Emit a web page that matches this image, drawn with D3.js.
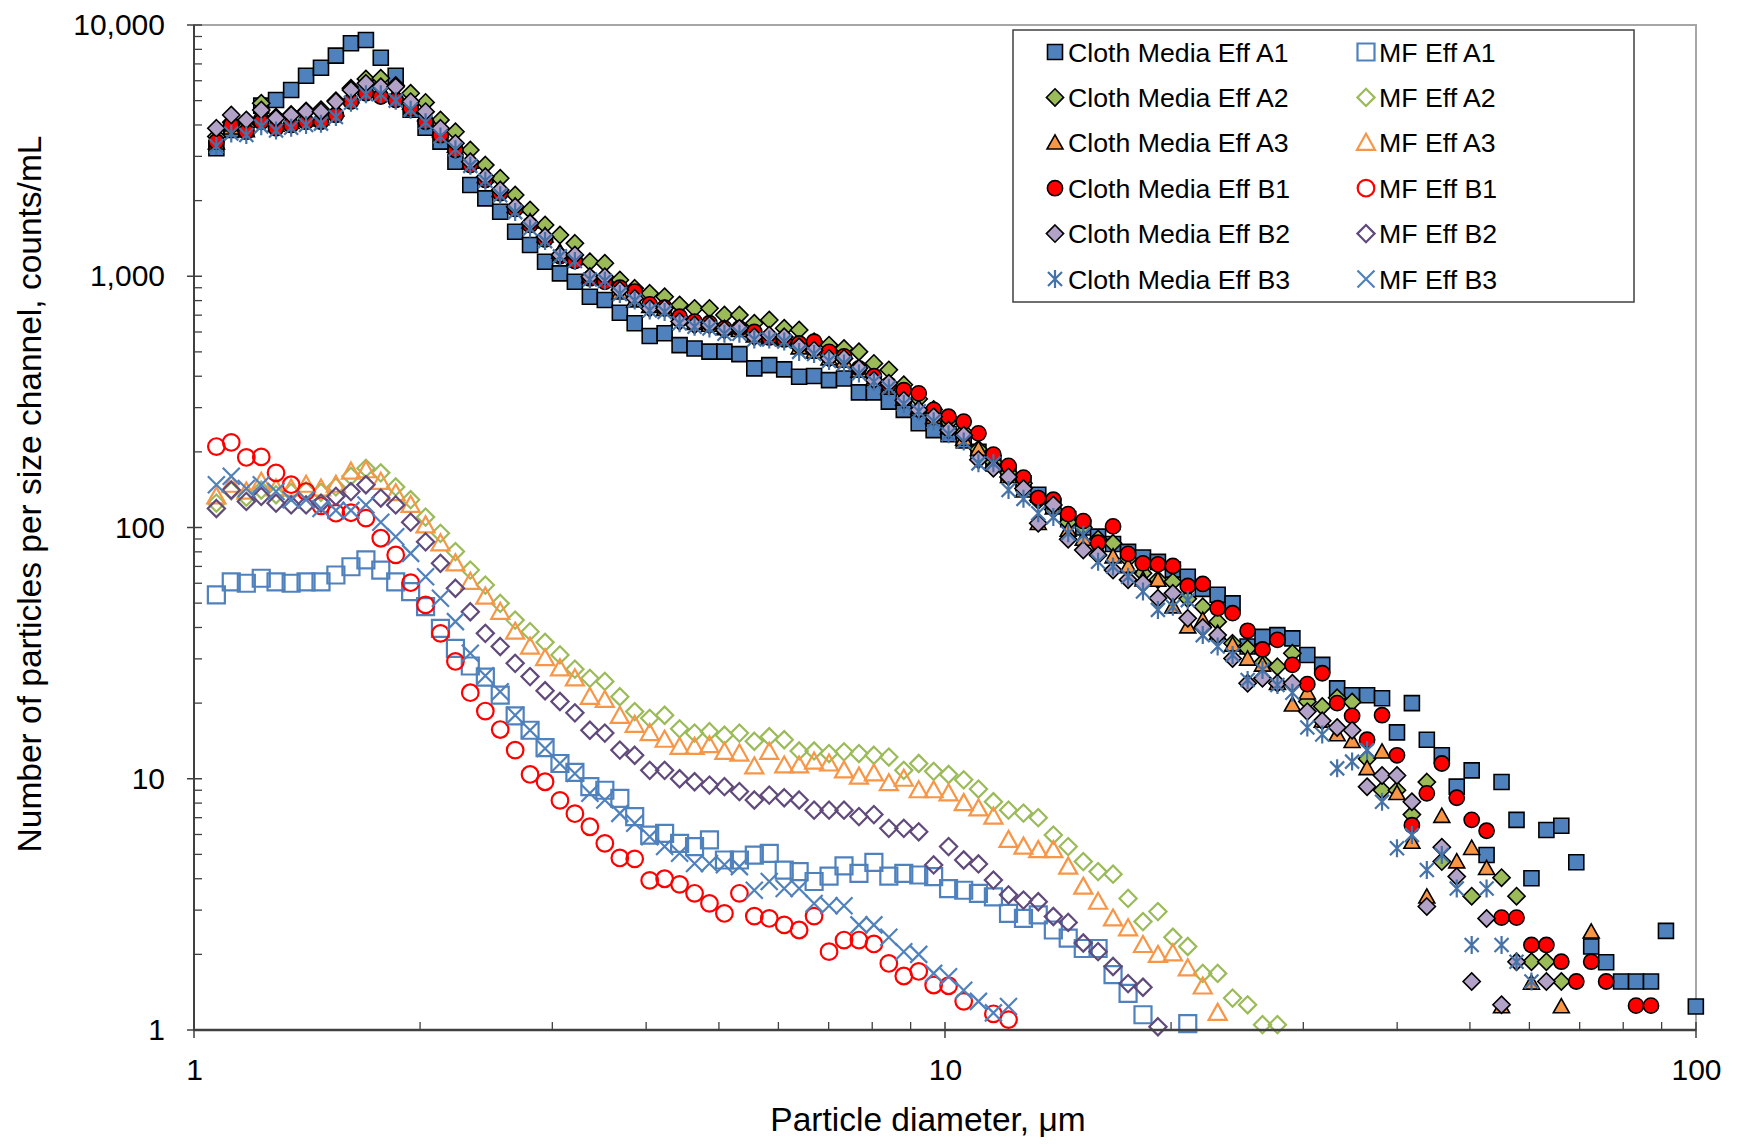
<!DOCTYPE html>
<html><head><meta charset="utf-8">
<script src="https://cdn.jsdelivr.net/npm/d3@7"></script>
<style>
body{margin:0;background:#fff}
text{font-family:'Liberation Sans',Arial,sans-serif;fill:#000}
</style></head>
<body><svg id="c" width="1737" height="1144"></svg>
<script>
// particle-size channels (µm)
const diameters = [1.071,1.121,1.174,1.229,1.286,1.347,1.410,1.476,1.545,1.618,
1.694,1.773,1.856,1.943,2.034,2.129,2.229,2.333,2.443,2.557,
2.677,2.802,2.934,3.071,3.215,3.366,3.524,3.690,3.862,4.044,
4.233,4.432,4.640,4.857,5.085,5.324,5.573,5.834,6.108,6.394,
6.694,7.008,7.337,7.681,8.041,8.418,8.813,9.226,9.658,10.11,
10.59,11.08,11.60,12.15,12.72,13.31,13.94,14.59,15.28,15.99,
16.74,17.53,18.35,19.21,20.11,21.05,22.04,23.07,24.15,25.29,
26.47,27.71,29.01,30.37,31.79,33.28,34.84,36.48,38.19,39.98,
41.85,43.81,45.87,48.02,50.27,52.62,55.09,57.68,60.38,63.21,
66.17,69.28,72.52,75.92,79.48,83.21,87.11,91.20,95.47,99.95];

const clothA1 = [3230,3820,3900,4775,5030,5510,6280,6760,7550,8460,
8710,7410,6280,4600,3900,3433,2857,2307,2041,1807,
1503,1331,1142,1027,951,829,804,716,650,578,
593,532,516,501,501,490,430,443,426,398,
401,386,392,345,345,317,294,260,244,235,
222,200,180,165,150,135,122,108,100,92,
86,80,76,73,68,63.7,57,54,49.9,33.6,
36.7,37.3,36.2,31.1,28.4,22.9,21.5,21.5,20.9,15.3,
20.0,14.3,12.4,9.3,10.8,4.97,9.7,6.86,4.02,6.25,
6.5,4.65,2.15,1.86,1.56,1.56,1.56,2.48,null,1.24];

const clothA2 = [3600,4100,3950,4880,4300,4400,4550,4600,5000,5600,
6100,6140,5750,5350,4920,4190,3760,3180,2770,2455,
2105,1835,1600,1459,1352,1142,1127,966,895,855,
829,769,745,745,701,701,650,670,621,611,
549,532,516,501,450,424,370,325,295,262,
240,205,182,165,150,128,118,105,100,90,
86.5,75,65.7,62,60.8,52,48.4,42.2,34.6,33,
29,27.9,31.6,20.3,19.4,21,20.2,12,9,9.0,
7.2,9.7,4.68,null,3.41,null,4.04,3.41,1.87,1.87,
1.56];

const clothA3 = [3400,3900,3800,4500,4000,4100,4200,4250,4600,5200,
5600,5500,5300,4900,4400,3800,3300,2850,2500,2200,
1900,1650,1450,1250,1180,1000,980,860,800,760,
740,680,650,640,620,610,580,570,560,520,
500,470,460,420,390,360,325,300,275,250,
225,205,180,160,140,104,120,97.7,90,82,
76.6,70,62,61.8,48.4,40.3,42.8,38,34.1,30,
28.4,24,19.7,22,17,15,14.1,11,12.8,8.75,
5.6,3.39,7.1,4.68,5.29,4.40,1.24,null,1.54,null,
1.24,null,2.46];

const clothB1 = [3430,4000,3760,4120,3880,4000,4120,4120,4385,4955,
5350,5190,5030,4660,4120,3640,3180,2770,2415,2140,
1850,1600,1400,1200,1150,980,950,900,869,773,
750,690,660,650,620,620,600,570,560,540,
549,500,480,430,400,370,352,342,294,276,
264,237,195,176,158,131,129,113,106,87,
101,78.5,72,71.3,70.3,58.5,59.6,47.7,45.6,38.8,
32.7,35.7,28.4,23.8,26.3,20.0,17.8,14.3,17.9,12.4,
6.53,8.75,11.5,8.4,6.86,6.21,2.80,2.80,2.18,2.18,
1.87,1.56,1.87,1.56,null,1.25,1.25];

const clothB2 = [3880,4385,4190,4590,4255,4385,4520,4520,4955,5510,
5860,5680,5680,4955,4520,3880,3380,2857,2490,2205,
1890,1625,1436,1216,1216,996,996,881,817,745,
745,660,640,640,611,621,574,583,574,524,
508,471,471,430,386,375,321,294,276,244,
233,186,172,159,143,104,123,89.8,81.3,77.7,
67.7,62,60,52.3,54.7,43.5,40,37.3,30.1,24.0,
25.1,24,24.0,18.5,17,16,15.6,9.3,10.3,10.3,
8.1,3.1,5.34,4.08,1.56,2.78,1.26,1.87,null,1.56];

const clothB3 = [3300,3700,3650,3950,3800,3900,4000,4050,4300,4900,
5300,5300,5000,4600,4100,3600,3200,2750,2400,2100,
1800,1550,1380,1200,1150,970,960,850,800,730,
720,650,630,620,590,590,560,560,550,500,
490,460,450,410,380,360,310,290,265,235,
220,180,180,141,130,114,110,94.8,93.4,73,
70,63.7,55.6,47,48.4,51.4,37.3,33.6,31.1,24.7,
27.1,23.6,22,16,15,11,11.7,13.0,8.1,5.29,
5.97,4.33,4.97,3.66,2.18,3.66,2.18,1.87,1.56];

const mfA1 = [53.9,60.8,60,62.8,60.8,60,60.8,60.8,64.7,69.8,
74.3,67.7,60.8,55.6,48.4,39.7,33.0,28.1,25.4,21.5,
17.8,15.6,13.3,11.5,10.6,9.3,9.0,8.35,7.07,5.97,
6.06,5.53,5.37,5.71,4.75,4.75,4.97,5.05,4.33,4.27,
3.9,4.1,4.5,4.2,4.65,4.1,4.2,4.14,4.08,3.65,
3.6,3.5,3.39,2.91,2.78,2.87,2.50,2.32,2.11,2.11,
1.66,1.40,1.15,null,null,1.06];

const mfA2 = [125,140,132,141,135,138,140,138,145,160,
172,165,145,129,110,94.8,80.2,67.7,59,49.9,
42.8,38.5,34.9,31.1,27.3,25.1,24.4,21.2,18.5,17.4,
17.9,15.8,15.2,15.4,14.9,15.2,14.1,14.7,14.3,12.9,
12.9,12.6,12.8,12.6,12.4,12.2,10.8,11.5,10.7,10.4,
9.9,9.1,8.1,7.5,7.3,7.0,5.97,5.37,4.68,4.27,
4.17,3.34,2.70,2.96,2.34,2.15,1.68,1.68,1.34,1.26,
1.05,1.05];

const mfA3 = [133,148,139,152,143,143,148,143,148,167,
169,152,137,123,102,86.5,72,60.8,53.1,46.2,
38.5,33.6,30.2,27.5,25.1,21.2,20.6,17.8,16.4,15.2,
14.3,13.4,13.4,13.6,12.8,12.6,11.2,12.8,11.3,11.3,
11.7,11.5,10.8,10.2,10.5,9.6,10.0,9.0,9.0,8.75,
8.0,7.62,7.07,5.71,5.37,5.2,5.2,4.47,3.72,3.24,
2.78,2.54,2.18,1.99,2.02,1.76,1.49,1.17];

const mfB1 = [210,218,190,191,165,148,139,122,114,114.5,
109,90.6,77.8,60.3,49.2,37.9,29.3,22.0,18.6,15.7,
13.0,10.4,9.73,8.2,7.26,6.44,5.53,4.84,4.8,3.94,
4.0,3.8,3.5,3.19,2.91,3.50,2.84,2.78,2.62,2.50,
2.84,2.05,2.28,2.28,2.20,1.84,1.64,1.71,1.51,1.50,
1.30,null,1.16,1.10];

const mfB2 = [119,141,127,133,125,123,123,125,133,139,
148,131,123,105,87.7,72,57.3,46.2,37.9,33.6,
28.8,25.5,22.4,20.3,18.3,15.6,15.2,13.0,12.4,10.8,
10.8,10.0,9.73,9.44,9.3,8.89,8.23,8.61,8.4,8.23,
7.5,7.5,7.5,7.07,7.2,6.35,6.35,6.15,4.54,5.37,
4.75,4.58,3.95,3.45,3.29,3.24,2.83,2.68,2.22,2.05,
1.79,1.53,1.48,1.03];

const mfB3 = [148,160,143,148,139,129,129,119,117,117,
123,105,91.9,78.9,63.7,52.3,42.2,31.6,25.7,22.2,
17.9,15.6,13.2,11.5,10.5,8.75,8.23,7.28,6.65,5.88,
5.37,5.05,4.6,4.6,4.55,4.47,3.6,3.9,3.66,3.66,
3.19,3.12,3.12,2.62,2.62,2.34,2.05,2.0,1.68,1.63,
1.44,1.30,1.17,1.24];

const yTicks = [1,10,100,1000,10000];
const xTicks = [1,10,100];
const seriesNames = ["Cloth Media Eff A1","MF Eff A1","Cloth Media Eff A2","MF Eff A2",
 "Cloth Media Eff A3","MF Eff A3","Cloth Media Eff B1","MF Eff B1",
 "Cloth Media Eff B2","MF Eff B2","Cloth Media Eff B3","MF Eff B3"];
const seriesValues = [clothA1,mfA1,clothA2,mfA2,clothA3,mfA3,clothB1,mfB1,clothB2,mfB2,clothB3,mfB3];
const seriesStyle = [
 {shape:"square",fill:"#4F81BD",stroke:"#000"},
 {shape:"square",fill:"none",stroke:"#4F81BD",open:true},
 {shape:"diamond",fill:"#9BBB59",stroke:"#000"},
 {shape:"diamond",fill:"none",stroke:"#9BBB59",open:true},
 {shape:"triangle",fill:"#F79646",stroke:"#000"},
 {shape:"triangle",fill:"none",stroke:"#F79646",open:true},
 {shape:"circle",fill:"#FF0000",stroke:"#000"},
 {shape:"circle",fill:"none",stroke:"#FF0000",open:true},
 {shape:"diamond",fill:"#B3A2C7",stroke:"#000"},
 {shape:"diamond",fill:"none",stroke:"#604A7B",open:true},
 {shape:"star",fill:"none",stroke:"#4572A7"},
 {shape:"x",fill:"none",stroke:"#4F81BD",open:true}
];

const svg = d3.select("#c");
const L=194, R=1696, T=25, B=1030;
const x = d3.scaleLog().domain([1,100]).range([L,R]);
const y = d3.scaleLog().domain([1,10000]).range([B,T]);

// plot frame
svg.append("rect").attr("x",L).attr("y",T).attr("width",R-L).attr("height",B-T)
  .attr("fill","none").attr("stroke","#A6A6A6").attr("stroke-width",2);

function markerPath(shape, open){
  if(shape==="square"){const h=open?8.5:7.5;return `M${-h},${-h}H${h}V${h}H${-h}Z`;}
  if(shape==="diamond"){const h=8.6;return `M0,${-h}L${h},0L0,${h}L${-h},0Z`;}
  if(shape==="triangle"){const h=open?9:8;return `M0,${-h}L${h},${h*0.78}L${-h},${h*0.78}Z`;}
  if(shape==="circle"){const r=open?8.3:7.6;return `M${-r},0A${r},${r} 0 1,0 ${r},0A${r},${r} 0 1,0 ${-r},0Z`;}
  if(shape==="x"){const h=8.5;return `M${-h},${-h}L${h},${h}M${-h},${h}L${h},${-h}`;}
  if(shape==="star"){const h=7;return `M${-h},${-h}L${h},${h}M${-h},${h}L${h},${-h}M0,${-9}L0,${9}`;}
}
function styleMarker(sel, st){
  sel.attr("d",markerPath(st.shape,st.open))
    .attr("fill",st.fill)
    .attr("stroke",st.stroke)
    .attr("stroke-width", st.shape==="star"?2.2:(st.open?2.2:1.6));
}

// data points
seriesValues.forEach((vals,si)=>{
  const st = seriesStyle[si];
  const pts = vals.map((v,i)=>({d:diameters[i],v:v})).filter(p=>p.v!=null);
  const g = svg.append("g");
  g.selectAll("path").data(pts).enter().append("path")
    .attr("transform",p=>`translate(${x(p.d)},${y(p.v)})`)
    .call(s=>styleMarker(s,st));
});

// axes lines
svg.append("line").attr("x1",L).attr("x2",L).attr("y1",T).attr("y2",B+1).attr("stroke","#404040").attr("stroke-width",2);
svg.append("line").attr("x1",L-1).attr("x2",R).attr("y1",B).attr("y2",B).attr("stroke","#404040").attr("stroke-width",2.5);

// minor & major ticks
const minorY=[], minorX=[];
[1,10,100,1000].forEach(b=>{for(let k=2;k<=9;k++) minorY.push(b*k);});
[1,10].forEach(b=>{for(let k=2;k<=9;k++) minorX.push(b*k);});
svg.selectAll(".my").data(minorY).enter().append("line")
  .attr("x1",L).attr("x2",L+8).attr("y1",d=>y(d)).attr("y2",d=>y(d)).attr("stroke","#404040").attr("stroke-width",1.3);
svg.selectAll(".My").data(yTicks).enter().append("line")
  .attr("x1",L-7).attr("x2",L+8).attr("y1",d=>y(d)).attr("y2",d=>y(d)).attr("stroke","#404040").attr("stroke-width",1.5);
svg.selectAll(".mx").data(minorX).enter().append("line")
  .attr("y1",B).attr("y2",B-8).attr("x1",d=>x(d)).attr("x2",d=>x(d)).attr("stroke","#404040").attr("stroke-width",1.3);
svg.selectAll(".Mx").data(xTicks).enter().append("line")
  .attr("y1",B-8).attr("y2",B+8).attr("x1",d=>x(d)).attr("x2",d=>x(d)).attr("stroke","#404040").attr("stroke-width",1.5);

// tick labels via d3 axes
const fmt = d3.format(",");
const ya = svg.append("g").attr("transform",`translate(${L},0)`)
  .call(d3.axisLeft(y).tickValues(yTicks).tickFormat(fmt).tickSize(0).tickPadding(29));
ya.select(".domain").remove();
ya.selectAll("text").attr("font-size",30).attr("font-family","'Liberation Sans',Arial,sans-serif").attr("fill","#000");
const xa = svg.append("g").attr("transform",`translate(0,${B})`)
  .call(d3.axisBottom(x).tickValues(xTicks).tickFormat(fmt).tickSize(0).tickPadding(29));
xa.select(".domain").remove();
xa.selectAll("text").attr("font-size",30).attr("font-family","'Liberation Sans',Arial,sans-serif").attr("fill","#000");

// axis titles
svg.append("text").attr("x",928).attr("y",1131).attr("text-anchor","middle")
  .attr("font-size",33.5).text("Particle diameter, \u03bcm");
svg.append("text").attr("transform","translate(41,494) rotate(-90)").attr("text-anchor","middle")
  .attr("font-size",33.5).text("Number of particles per size channel, counts/mL");

// legend
const lg = svg.append("g");
lg.append("rect").attr("x",1013).attr("y",30).attr("width",621).attr("height",272)
  .attr("fill","#fff").attr("stroke","#404040").attr("stroke-width",1.5);
seriesNames.forEach((nm,i)=>{
  const col=i%2,row=Math.floor(i/2);
  const cx = col===0?1055:1366, cy = 52+row*45.4;
  lg.append("path").attr("transform",`translate(${cx},${cy})`).call(s=>styleMarker(s,seriesStyle[i]));
  lg.append("text").attr("x",cx+13).attr("y",cy+9.5).attr("font-size",26.7).text(nm);
});
</script>
</body></html>
